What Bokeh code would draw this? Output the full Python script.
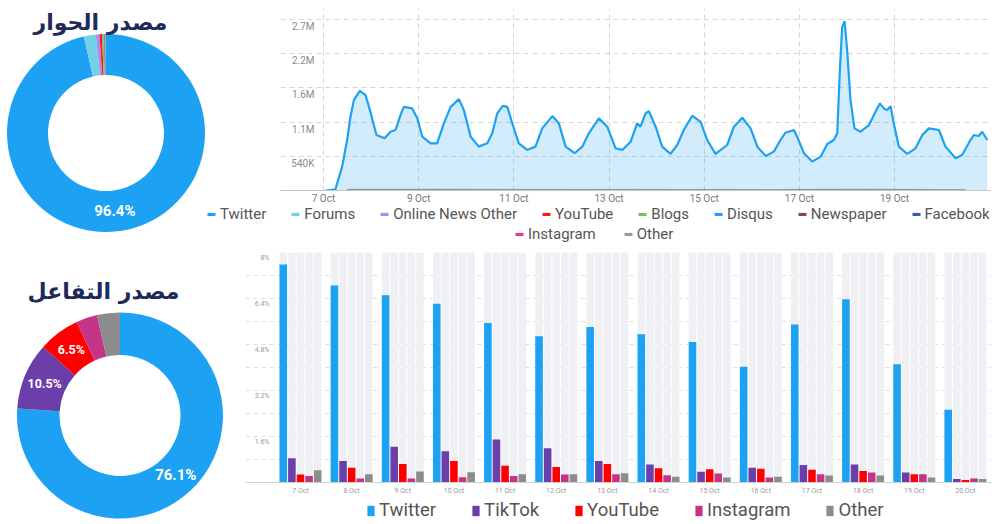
import math
from bokeh.plotting import figure
from bokeh.models import Range1d, Label, Legend, LegendItem, FixedTicker, Grid, ColumnDataSource
from bokeh.layouts import row, column
from bokeh.embed import file_html
from bokeh.resources import INLINE
from bokeh.core.properties import value

FONT = "Roboto"
AR_FONT = "DejaVu Sans"

# ---------------- data ----------------
conv_title = "مصدر الحوار"
conv_sources = ["Twitter", "Forums", "Online News Other", "YouTube", "Blogs",
                "Disqus", "Newspaper", "Facebook", "Instagram", "Other"]
conv_share = [96.4, 1.95, 0.6, 0.4, 0.25, 0.15, 0.1, 0.05, 0.05, 0.05]
conv_colors = ["#1da1f2", "#74d0e4", "#a98cf7", "#ff1a1a", "#79bf5a",
               "#2e9bff", "#8e3c6e", "#3d5aa8", "#d4418e", "#9a9a9a"]

eng_title = "مصدر التفاعل"
eng_sources = ["Twitter", "TikTok", "YouTube", "Instagram", "Other"]
eng_share = [76.1, 10.5, 6.5, 3.3, 3.6]
eng_colors = ["#1da1f2", "#6a3fa9", "#ff0000", "#c4358a", "#8c8c8c"]

# Twitter volume: hours since 7 Oct 00:00, thousands of mentions
tw_hours = [1.0, 6.0, 9.4, 11.9, 13.6, 15.3, 18.3, 21.2, 23.4, 26.7, 30.8, 33.8, 36.3, 38.8,
            40.5, 44.7, 47.3, 49.8, 54.0, 57.3, 60.7, 64.1, 68.3, 70.8, 74.2, 78.3, 82.6,
            85.1, 87.6, 90.4, 92.7, 95.2, 98.5, 102.7, 106.9, 110.3, 115.4, 118.7, 122.1,
            126.6, 130.5, 133.8, 138.9, 143.1, 147.3, 150.7, 154.9, 158.2, 159.9, 162.4,
            164.1, 167.5, 170.8, 175.0, 178.4, 181.7, 186.0, 190.2, 193.5, 197.7, 203.6,
            207.0, 211.2, 215.4, 218.8, 223.0, 227.1, 230.5, 233.0, 237.2, 238.9, 242.3,
            246.5, 250.7, 254.1, 257.4, 259.1, 260.5, 261.6, 262.8, 264.1, 265.8, 267.8,
            270.9, 275.1, 278.4, 280.6, 282.6, 284.3, 286.0, 287.6, 290.2, 294.4, 298.6,
            302.0, 305.3, 310.4, 313.7, 318.8, 322.1, 326.3, 328.0, 330.5, 332.2, 334.8]
tw_volume_k = [0, 20, 378, 798, 1165, 1428, 1574, 1507, 1270, 877, 825, 929, 956, 1192,
               1322, 1297, 1140, 850, 746, 746, 1061, 1322, 1444, 1270, 850, 693, 746,
               904, 1218, 1338, 1322, 1061, 746, 641, 693, 982, 1176, 1061, 693,
               589, 693, 904, 1140, 1008, 667, 641, 771, 1061, 1008, 1218,
               1255, 1008, 693, 578, 719, 956, 1181, 1086, 798, 578, 719,
               1008, 1149, 982, 693, 546, 614, 798, 913, 956, 850, 589,
               457, 535, 735, 798, 904, 1952, 2582, 2676, 2215, 1428, 982,
               929, 1034, 1244, 1376, 1297, 1270, 1333, 1061, 693, 578, 667,
               877, 982, 956, 693, 510, 562, 798, 877, 861, 929, 798]

# the other sources stay close to the baseline (thousands)
minor_hours = [12, 36, 60, 84, 108, 132, 156, 180, 204, 228, 252, 276, 300, 324]
minor_volume_k = {
    "Forums":            [22, 20, 24, 21, 18, 17, 19, 16, 18, 15, 21, 24, 17, 15],
    "Online News Other": [9, 7, 8, 7, 6, 6, 6, 5, 6, 5, 7, 8, 6, 5],
    "YouTube":           [5, 5, 6, 5, 4, 4, 4, 4, 4, 3, 5, 5, 4, 3],
    "Blogs":             [3, 3, 3, 3, 2, 2, 2, 2, 2, 2, 3, 3, 2, 2],
    "Disqus":            [2, 2, 2, 2, 1, 1, 1, 1, 1, 1, 2, 2, 1, 1],
    "Newspaper":         [1, 1, 1, 1, 1, 1, 1, 1, 1, 1, 1, 1, 1, 1],
    "Facebook":          [1, 1, 1, 0, 0, 0, 0, 0, 0, 0, 1, 1, 0, 0],
    "Instagram":         [1, 1, 0, 0, 0, 0, 0, 0, 0, 0, 1, 1, 0, 0],
    "Other":             [1, 1, 0, 0, 0, 0, 0, 0, 0, 0, 1, 1, 0, 0],
}

area_tick_hours = [0, 48, 96, 144, 192, 240, 288]
area_tick_labels = ["7 Oct", "9 Oct", "11 Oct", "13 Oct", "15 Oct", "17 Oct", "19 Oct"]
vol_ticks_k = [540, 1080, 1620, 2160, 2700]
vol_tick_labels = ["540K", "1.1M", "1.6M", "2.2M", "2.7M"]

days = ["7 Oct", "8 Oct", "9 Oct", "10 Oct", "11 Oct", "12 Oct", "13 Oct",
        "14 Oct", "15 Oct", "16 Oct", "17 Oct", "18 Oct", "19 Oct", "20 Oct"]
eng_twitter = [7.58, 6.85, 6.51, 6.22, 5.55, 5.09, 5.41, 5.16, 4.89, 4.03, 5.50, 6.37, 4.11, 2.53]
eng_tiktok = [0.84, 0.75, 1.24, 1.09, 1.50, 1.19, 0.75, 0.63, 0.37, 0.51, 0.61, 0.63, 0.35, 0.12]
eng_youtube = [0.28, 0.51, 0.64, 0.75, 0.58, 0.54, 0.64, 0.50, 0.46, 0.48, 0.44, 0.40, 0.29, 0.09]
eng_instagram = [0.23, 0.14, 0.14, 0.18, 0.23, 0.28, 0.29, 0.25, 0.31, 0.17, 0.29, 0.35, 0.29, 0.14]
eng_other = [0.43, 0.29, 0.38, 0.36, 0.29, 0.29, 0.32, 0.20, 0.17, 0.20, 0.24, 0.24, 0.17, 0.12]
pct_ticks = [1.6, 3.2, 4.8, 6.4, 8.0]
pct_tick_labels = ["1.6%", "3.2%", "4.8%", "6.4%", "8%"]
pct_grid = [0.8, 1.6, 2.4, 3.2, 4.0, 4.8, 5.6, 6.4, 7.2, 8.0]

TITLE_COLOR = "#1c2b5a"
TEXT_GRAY = "#555555"
NAN = float("nan")


def blank_fig(w, h, xr, yr):
    p = figure(frame_width=w, frame_height=h, x_range=xr, y_range=yr,
               x_axis_type=None, y_axis_type=None, toolbar_location=None, output_backend="svg",
               min_border=0, outline_line_color=None)
    p.title.visible = False
    return p


# ---------------- donuts ----------------
def donut(title, names, shares, colors, w, h, cx, cy_top, r_out, r_in, title_x, title_y):
    p = blank_fig(w, h, Range1d(-cx, w - cx), Range1d(cy_top - h, cy_top))
    total = sum(shares)
    starts, ends, lx, ly, lt, ls = [], [], [], [], [], []
    acc = 0.0
    r_mid = (r_out + r_in) / 2
    for s in shares:
        a0 = acc / total
        acc += s
        a1 = acc / total
        starts.append(math.pi / 2 - 2 * math.pi * a0)
        ends.append(math.pi / 2 - 2 * math.pi * a1)
        if s >= 5:
            m = math.pi / 2 - math.pi * (a0 + a1)
            lx.append(r_mid * math.cos(m))
            ly.append(r_mid * math.sin(m))
            lt.append(f"{s}%")
            ls.append("15px" if s >= 50 else "12.5px")
    src = ColumnDataSource(dict(start=starts, end=ends, color=colors, name=names))
    p.annular_wedge(x=0, y=0, inner_radius=r_in, outer_radius=r_out, start_angle="start",
                    end_angle="end", direction="clock", fill_color="color", line_color=None,
                    source=src)
    p.text(x=lx, y=ly, text=lt, text_font_size=ls, text_font=value(FONT), text_font_style="bold",
           text_color="white", text_align="center", text_baseline="middle")
    p.add_layout(Label(x=title_x - cx, y=cy_top - title_y, text=title, text_font=AR_FONT,
                       text_font_size="22px", text_font_style="bold", text_color=TITLE_COLOR,
                       text_align="center", text_baseline="middle"))
    return p


def legend_fig(w, h, names, colors, groups, **style):
    # a strip that only holds a legend; each swatch renderer has no drawable point
    p = blank_fig(w, h, Range1d(0, 1), Range1d(0, 1))
    items = []
    for n, c in zip(names, colors):
        r = p.quad(left=[NAN], right=[NAN], top=[NAN], bottom=[NAN], fill_color=c,
                   line_color=None)
        items.append(LegendItem(label=n, renderers=[r]))
    for (i0, i1, loc, spacing) in groups:
        p.add_layout(Legend(items=items[i0:i1], location=loc, spacing=spacing,
                            orientation="horizontal", padding=0, margin=0,
                            border_line_color=None, background_fill_alpha=0, **style))
    return p


d1 = donut(conv_title, conv_sources, conv_share, conv_colors, 206, 248, 105.5, 132.5, 99, 58, 100, 22)
d2 = donut(eng_title, eng_sources, eng_share, eng_colors, 225, 276, 119.5, 167, 103, 60.5, 103, 43)

# ---------------- area chart ----------------
area = figure(width=789, height=206, x_range=Range1d(-21.7, 336.4), y_range=Range1d(0, 2876),
              y_axis_type=None, toolbar_location=None, output_backend="svg",
              min_border_left=74, min_border_right=5, min_border_top=8, min_border_bottom=15,
              outline_line_color=None)
area.varea(x=tw_hours, y1=0, y2=tw_volume_k, fill_color=conv_colors[0], fill_alpha=0.2)
for name, col in zip(conv_sources[1:], conv_colors[1:]):
    area.line(minor_hours, minor_volume_k[name], line_color=col, line_width=1, line_alpha=0.8)
area.line(tw_hours, tw_volume_k, line_color=conv_colors[0], line_width=2.2)

xa = area.xaxis[0]
xa.ticker = FixedTicker(ticks=area_tick_hours)
xa.major_label_overrides = {t: l for t, l in zip(area_tick_hours, area_tick_labels)}
xa.axis_line_color = "#c4c4c4"
xa.major_tick_line_color = None
xa.minor_tick_line_color = None
xa.major_tick_out = 0
xa.minor_tick_out = 0
xa.major_label_text_font = FONT
xa.major_label_text_font_size = "10px"
xa.major_label_text_color = "#777777"
xa.major_label_standoff = 2
area.xgrid.grid_line_dash = "5 4"
area.xgrid.grid_line_color = "#d6d6d6"
area.add_layout(Grid(dimension=1, ticker=FixedTicker(ticks=vol_ticks_k), grid_line_dash="5 4",
                     grid_line_color="#d6d6d6"))
area.text(x=[area.x_range.start] * len(vol_ticks_k), y=vol_ticks_k, text=vol_tick_labels,
          x_offset=34, y_offset=7, text_align="right", text_baseline="middle",
          text_font=value(FONT), text_font_size="10px", text_color="#8a8a8a")

area_leg = legend_fig(789, 42, conv_sources, conv_colors,
                      [(0, 8, (0, 25), 24), (8, 10, (308, 5), 27)],
                      label_text_font=FONT, label_text_font_size="15px",
                      label_text_color=TEXT_GRAY, glyph_width=10, glyph_height=4,
                      label_standoff=4, label_height=16)

# ---------------- bar chart ----------------
bars = figure(width=770, height=249, x_range=Range1d(-1.075, 13.51), y_range=Range1d(0, 8),
              y_axis_type=None, toolbar_location=None, output_backend="svg",
              min_border_left=20, min_border_right=4, min_border_top=4, min_border_bottom=14,
              outline_line_color=None)
slot_step = 0.168
bar_w = 0.148
offsets = [(k - 2) * slot_step for k in range(len(eng_sources))]
bg_x = [i + o for i in range(len(days)) for o in offsets]
bars.vbar(x=bg_x, top=bars.y_range.end, width=bar_w, fill_color="#eff0f4", line_color=None)
series = [eng_twitter, eng_tiktok, eng_youtube, eng_instagram, eng_other]
for k, (name, vals, col) in enumerate(zip(eng_sources, series, eng_colors)):
    bars.vbar(x=[i + offsets[k] for i in range(len(days))], top=vals, width=bar_w,
              fill_color=col, line_color=None)

bx = bars.xaxis[0]
bx.ticker = FixedTicker(ticks=list(range(len(days))))
bx.major_label_overrides = {i: d for i, d in enumerate(days)}
bx.axis_line_color = "#d0d0d0"
bx.major_tick_line_color = None
bx.minor_tick_line_color = None
bx.major_tick_out = 0
bx.minor_tick_out = 0
bx.major_label_text_font = FONT
bx.major_label_text_font_size = "7px"
bx.major_label_text_color = "#999999"
bx.major_label_standoff = 4
bars.xgrid.visible = False
bars.add_layout(Grid(dimension=1, ticker=FixedTicker(ticks=pct_grid), grid_line_dash="4 4",
                     grid_line_color="#dcdcdc"))
bars.text(x=[bars.x_range.start] * len(pct_ticks), y=pct_ticks, text=pct_tick_labels,
          x_offset=24, y_offset=5, text_align="right", text_baseline="middle",
          text_font=value(FONT), text_font_size="7px", text_color="#999999")

bar_leg = legend_fig(770, 27, eng_sources, eng_colors, [(0, 5, (141, 3), 35)],
                     label_text_font=FONT, label_text_font_size="18.5px",
                     label_text_color=TEXT_GRAY, glyph_width=9, glyph_height=13,
                     label_standoff=4, label_height=20)

layout = column(row(d1, column(area, area_leg)), row(d2, column(bars, bar_leg)))
open("out.html", "w").write(file_html(layout, INLINE))
